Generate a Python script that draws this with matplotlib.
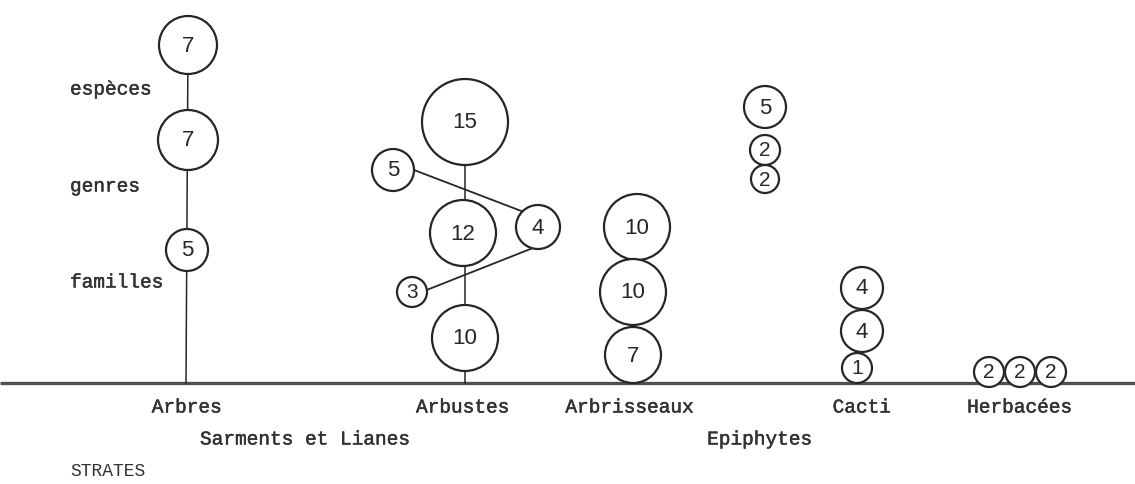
import numpy as np
import matplotlib.pyplot as plt
import matplotlib.patheffects as pe
from matplotlib.patches import Circle

# Nombre de taxons par strate (valeurs lues dans les cercles)
arbres_values = [7, 7, 5]
arbustes_values = [15, 12, 10]
lianes_values = [5, 4, 3]
arbrisseaux_values = [10, 10, 7]
epiphytes_values = [5, 2, 2]
cacti_values = [4, 4, 1]
herbacees_values = [2, 2, 2]

strata_labels = ["Arbres", "Arbustes", "Arbrisseaux", "Cacti", "Herbacées"]
level_labels = ["espèces", "genres", "familles"]
group_labels = ["Sarments et Lianes", "Epiphytes"]
axis_title = "STRATES"

# Mise en page (pixels de la figure) : centres x, y et rayons des cercles
layout = {
    "arbres": ([188, 188, 187], [45, 140, 250], [29, 30, 21]),
    "arbustes": ([465, 463, 465], [122, 233, 338], [43, 33, 33]),
    "lianes": ([393, 538, 412], [170, 227, 292], [21, 22, 15]),
    "arbrisseaux": ([637, 633, 633], [227, 292, 355], [33, 33, 28]),
    "epiphytes": ([765, 765, 765], [107, 150, 179], [21, 15, 14]),
    "cacti": ([862, 862, 857], [288, 331, 368], [21, 21, 15]),
    "herbacees": ([989, 1020, 1051], [372, 372, 372], [15, 15, 15]),
}
values = {
    "arbres": arbres_values, "arbustes": arbustes_values, "lianes": lianes_values,
    "arbrisseaux": arbrisseaux_values, "epiphytes": epiphytes_values,
    "cacti": cacti_values, "herbacees": herbacees_values,
}

W, H = 1135, 484
base_y = 383
ink = "#262626"
mono = "Liberation Mono"

fig = plt.figure(figsize=(W / 100, H / 100), dpi=100)
ax = fig.add_axes([0, 0, 1, 1])
ax.set_xlim(0, W)
ax.set_ylim(H, 0)
ax.set_aspect("equal")
ax.axis("off")

# ligne de base
ax.plot([0, W], [base_y, base_y], color="#505050", lw=2.4, zorder=1, solid_capstyle="butt")

# tiges verticales
xs, ys, rs = layout["arbres"]
ax.plot([xs[0], xs[2] - 1], [ys[0], base_y], color=ink, lw=1.1, zorder=2)
xs, ys, rs = layout["arbustes"]
ax.plot([xs[0], xs[2]], [ys[0], base_y], color=ink, lw=1.1, zorder=2)


def edge(name, i, ang):
    x, y, r = layout[name][0][i], layout[name][1][i], layout[name][2][i]
    a = np.deg2rad(ang)
    return x + r * np.cos(a), y + r * np.sin(a)


# liaisons sarments et lianes
p1, p2 = edge("lianes", 0, 0), edge("lianes", 1, 225)
ax.plot([p1[0], p2[0]], [p1[1], p2[1]], color=ink, lw=1.3, zorder=2)
p1, p2 = edge("lianes", 1, 105), edge("lianes", 2, -8)
ax.plot([p1[0], p2[0]], [p1[1], p2[1]], color=ink, lw=1.3, zorder=2)

# cercles
for name, vals in values.items():
    xs, ys, rs = layout[name]
    for x, y, r, v in zip(xs, ys, rs, vals):
        ax.add_patch(Circle((x, y), r, facecolor="white", edgecolor=ink, lw=1.6, zorder=3))
        ax.text(x, y + 1, str(v), ha="center", va="center", fontsize=16 if r > 17 else 15,
                family="Liberation Sans", color=ink, zorder=4)

# textes (machine à écrire)
thick = [pe.withStroke(linewidth=0.35, foreground="#333333")]
txt = dict(fontsize=14, family=mono, color="#333333", path_effects=thick)
for lab, y in zip(level_labels, [90, 187, 283]):
    ax.text(70, y, lab, ha="left", va="center", **txt)

for lab, x in zip(strata_labels, [187, 463, 630, 862, 1020]):
    ax.text(x, 408, lab, ha="center", va="center", **txt)

ax.text(200, 440, group_labels[0], ha="left", va="center", **txt)
ax.text(760, 440, group_labels[1], ha="center", va="center", **txt)
ax.text(70, 472, axis_title, ha="left", va="center", fontsize=13, family=mono, color="#333333")

fig.savefig("out.png", dpi=100, facecolor="white")
plt.close(fig)
